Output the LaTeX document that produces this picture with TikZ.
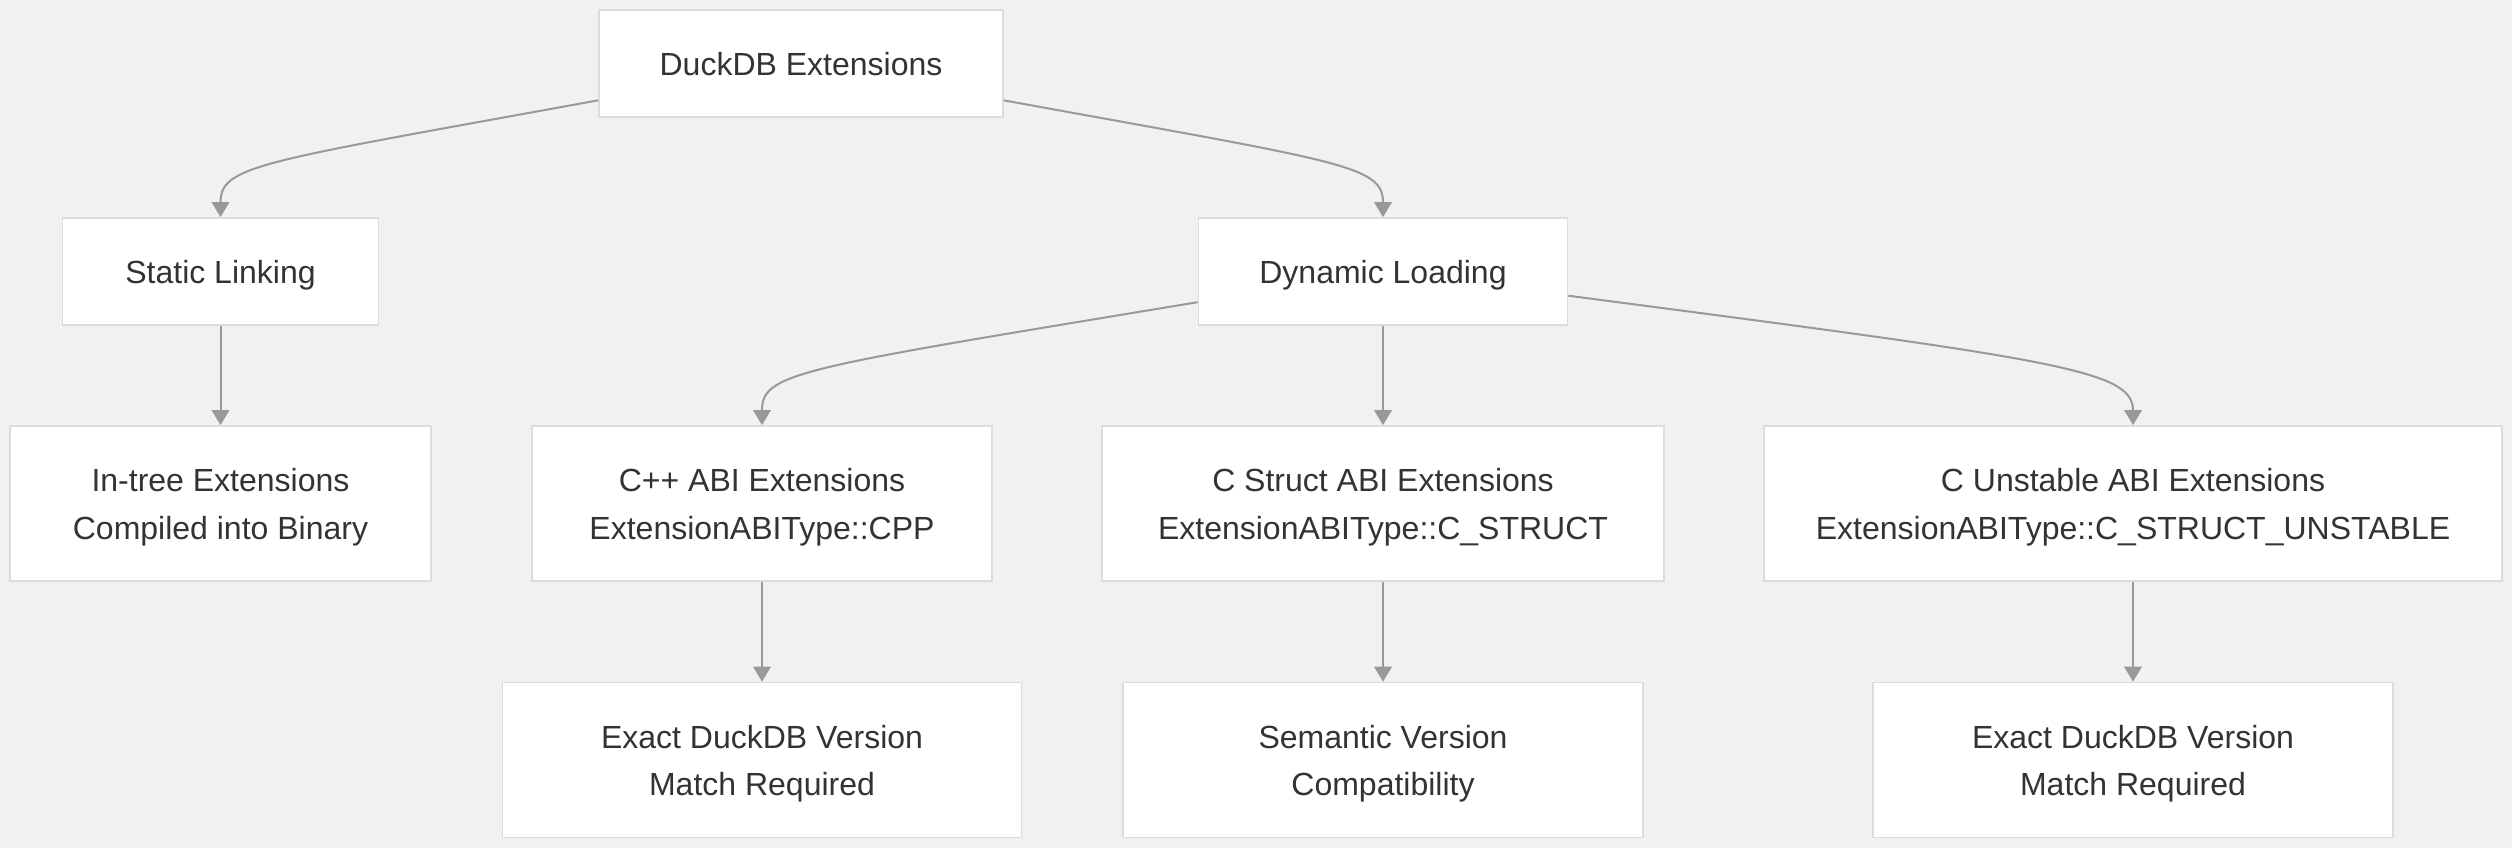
\documentclass[tikz,border=0pt]{standalone}
\usepackage{fontspec}
\setmainfont{Liberation Sans}
\usetikzlibrary{arrows.meta,positioning}
\definecolor{bgcol}{HTML}{F2F1EF}
\definecolor{boxline}{HTML}{DCDCDC}
\definecolor{edgecol}{HTML}{999999}
\definecolor{txtcol}{HTML}{333333}

\begin{document}
\begin{tikzpicture}[x=0.4pt, y=-0.4pt,
    box/.style={draw=boxline, line width=0.7pt, fill=white, align=center, inner sep=0pt,
        text=txtcol, font=\fontsize{12.8}{19}\selectfont, minimum height=42.8pt,
        text height=9.2pt, text depth=0pt},
    tall/.style={minimum height=62pt, text height=28.6pt, text depth=0pt},
    edge/.style={draw=edgecol, line width=0.8pt, -{Triangle[length=6pt,width=7pt]}}]

    % Background and frame
    \fill[bgcol] (0,0) rectangle (2512,848);
    \useasboundingbox (0,0) rectangle (2512,848);

    % Top levels
    \node[box, minimum width=161.6pt] (root) at (801,63.5) {DuckDB Extensions};
    \node[box, minimum width=126.4pt] (static) at (220.5,271.5) {Static Linking};
    \node[box, minimum width=147.6pt] (dynamic) at (1383,271.5) {Dynamic Loading};

    % Extension kinds
    \node[box, tall, minimum width=168.4pt] (intree) at (220.5,503.5) {In-tree Extensions\\Compiled into Binary};
    \node[box, tall, minimum width=184pt] (cpp) at (762,503.5) {C++ ABI Extensions\\ExtensionABIType::CPP};
    \node[box, tall, minimum width=224.8pt] (cstruct) at (1383,503.5) {C Struct ABI Extensions\\ExtensionABIType::C\_STRUCT};
    \node[box, tall, minimum width=295.2pt] (cunstable) at (2133,503.5) {C Unstable ABI Extensions\\ExtensionABIType::C\_STRUCT\_UNSTABLE};

    % Version rules
    \node[box, tall, minimum width=207.6pt] (exactcpp) at (762,760) {Exact DuckDB Version\\Match Required};
    \node[box, tall, minimum width=208pt] (semver) at (1383,760) {Semantic Version\\Compatibility};
    \node[box, tall, minimum width=208pt] (exactc) at (2133,760) {Exact DuckDB Version\\Match Required};

    % Connectors
    \draw[edge] (root) .. controls (260,162) and (220.5,165) .. (static.north);
    \draw[edge] (root) .. controls (1342,162) and (1383,165) .. (dynamic.north);
    \draw[edge] (static) -- (intree);
    \draw[edge] (dynamic) .. controls (800,368) and (762,372) .. (cpp.north);
    \draw[edge] (dynamic) -- (cstruct);
    \draw[edge] (dynamic) .. controls (2060,360) and (2133,370) .. (cunstable.north);
    \draw[edge] (cpp) -- (exactcpp);
    \draw[edge] (cstruct) -- (semver);
    \draw[edge] (cunstable) -- (exactc);
\end{tikzpicture}
\end{document}
